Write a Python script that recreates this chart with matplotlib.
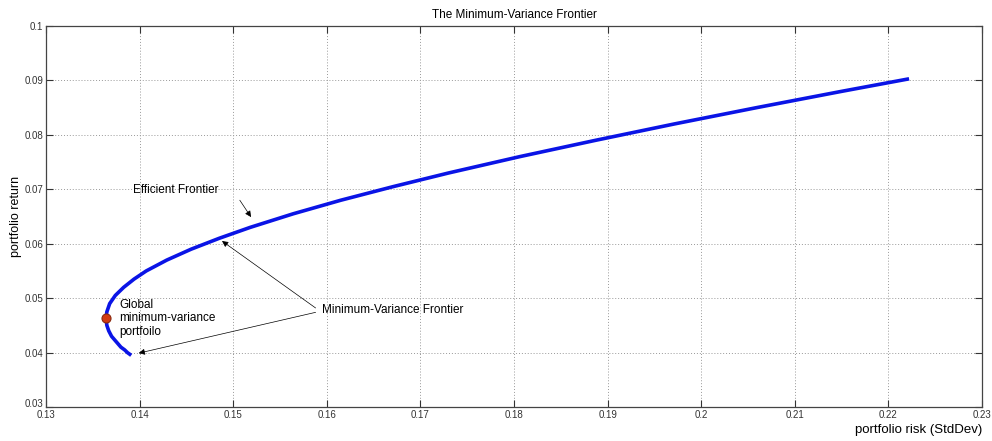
"""
Minimum-variance frontier, MATLAB-looking figure
"""

import matplotlib
matplotlib.use('Agg')
import matplotlib.pyplot as plt
import matplotlib.transforms as mtransforms

# frontier points (risk, return)
risk = [0.1391, 0.1387, 0.1384, 0.1380, 0.1375, 0.1370, 0.1367, 0.1365,
        0.1364, 0.1365, 0.1368, 0.1374, 0.1383, 0.1394, 0.1407, 0.1429,
        0.1455, 0.1485, 0.1518, 0.1564, 0.1615, 0.1671, 0.1730, 0.1806,
        0.1887, 0.1971, 0.2059, 0.2150, 0.2222]
ret = [0.0395, 0.0400, 0.0405, 0.0410, 0.0420, 0.0430, 0.0440, 0.0450,
       0.0463, 0.0475, 0.0490, 0.0505, 0.0520, 0.0535, 0.0550, 0.0570,
       0.0590, 0.0610, 0.0630, 0.0655, 0.0680, 0.0705, 0.0730, 0.0760,
       0.0790, 0.0820, 0.0850, 0.0880, 0.0903]

gmv_risk = 0.1364
gmv_ret = 0.0463

x_ticks = [0.13, 0.14, 0.15, 0.16, 0.17, 0.18, 0.19, 0.2, 0.21, 0.22, 0.23]
y_ticks = [0.03, 0.04, 0.05, 0.06, 0.07, 0.08, 0.09, 0.1]

plt.rcParams['font.family'] = ['Liberation Sans', 'DejaVu Sans']

fig = plt.figure(figsize=(9.92, 4.41), dpi=100)
ax = fig.add_axes([0.0464, 0.077, 0.9436, 0.864])

ax.plot(risk, ret, color='#0a14e6', linewidth=2.6, solid_joinstyle='round',
        solid_capstyle='butt', zorder=3)
ax.plot(gmv_risk, gmv_ret, 'o', markersize=6.5, markerfacecolor='#d23a12',
        markeredgecolor='#8a2a10', markeredgewidth=0.8, zorder=4)

ax.set_xlim(0.13, 0.23)
ax.set_ylim(0.03, 0.1)
ax.set_xticks(x_ticks)
ax.set_yticks(y_ticks)
ax.set_xticklabels([f'{t:g}' for t in x_ticks])
ax.set_yticklabels([f'{t:g}' for t in y_ticks])
ax.tick_params(direction='in', length=5, width=0.8, labelsize=7,
               labelcolor='#333333', color='#333333', top=True, right=True)
ax.tick_params(axis='x', pad=2)
ax.tick_params(axis='y', pad=2)
for s in ax.spines.values():
    s.set_color('#444444')
    s.set_linewidth(0.9)
ax.grid(True, linestyle=(0, (1, 2)), color='#999999', linewidth=0.7)

# lift the bottom y label a little so it does not sit on top of 0.13
lbl = ax.get_yticklabels()[0]
lbl.set_transform(lbl.get_transform() + mtransforms.ScaledTranslation(0, 3 / 72, fig.dpi_scale_trans))

ax.set_title('The Minimum-Variance Frontier', fontsize=8.5, pad=6)
ax.set_ylabel('portfolio return', fontsize=9)
ax.yaxis.set_label_coords(-0.032, 0.5)
ax.yaxis.label.set_verticalalignment('center')
ax.set_xlabel('portfolio risk (StdDev)', fontsize=9.5)
ax.xaxis.set_label_coords(1.0, -0.06)
ax.xaxis.label.set_horizontalalignment('right')
ax.xaxis.label.set_verticalalignment('center')

# annotations
arrow = dict(arrowstyle='-|>', color='black', linewidth=0.5, mutation_scale=9,
             shrinkA=0, shrinkB=0)
ax.text(0.1393, 0.0699, 'Efficient Frontier', fontsize=8.5, va='center', ha='left')
ax.annotate('', xy=(0.1519, 0.0649), xytext=(0.1507, 0.0680), arrowprops=arrow)

ax.text(0.1595, 0.0478, 'Minimum-Variance Frontier', fontsize=8.5, va='center', ha='left')
ax.annotate('', xy=(0.1488, 0.0605), xytext=(0.1588, 0.0482), arrowprops=arrow)
ax.annotate('', xy=(0.1399, 0.0399), xytext=(0.1588, 0.0474), arrowprops=arrow)

ax.text(0.1378, 0.0463, 'Global\nminimum-variance\nportfoilo', fontsize=8.5,
        va='center', ha='left', linespacing=1.15)

fig.savefig('out.png', dpi=100)
